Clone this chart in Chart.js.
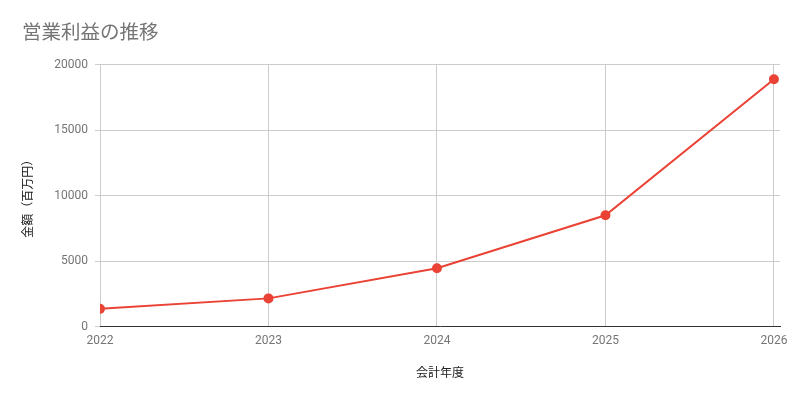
<!DOCTYPE html>
<html><head><meta charset="utf-8">
<script src="https://cdn.jsdelivr.net/npm/chart.js@4"></script>
<style>html,body{margin:0;padding:0;background:#fff}#wrap{width:800px;height:400px}</style>
</head><body><div id="wrap"><canvas id="c" width="800" height="400"></canvas></div>
<script>
const categories = ['2022', '2023', '2024', '2025', '2026'];
const profitValues = [1350, 2150, 4450, 8500, 18900];
const yTickValues = [0, 5000, 10000, 15000, 20000];
const titleText = '営業利益の推移';
const xTitleText = '会計年度';
const yTitleText = '金額（百万円）';

const FONT = "Roboto, 'Noto Sans CJK JP', sans-serif";
const points = categories.map((c, i) => ({ x: parseInt(c, 10), y: profitValues[i] }));
const xMin = parseInt(categories[0], 10);
const xMax = parseInt(categories[categories.length - 1], 10);

new Chart(document.getElementById('c'), {
  type: 'line',
  data: { datasets: [{
    data: points,
    borderColor: '#ea4335',
    backgroundColor: '#ea4335',
    borderWidth: 2,
    pointRadius: 4,
    pointHoverRadius: 4,
    tension: 0
  }]},
  options: {
    responsive: false,
    animation: false,
    devicePixelRatio: 1,
    layout: { padding: { left: 22, right: 20, top: 0, bottom: 0 } },
    plugins: {
      legend: { display: false },
      tooltip: { enabled: false },
      title: {
        display: true, text: titleText, align: 'start', color: '#757575',
        font: { family: FONT, size: 19.5, weight: 'normal' },
        padding: { top: 22, bottom: 19.5 }
      }
    },
    scales: {
      x: {
        type: 'linear', min: xMin, max: xMax + 0.036,
        afterFit: s => { s.height = 73.5; },
        ticks: { stepSize: 1, includeBounds: false, color: '#757575', padding: 7, maxRotation: 0,
          font: { family: FONT, size: 12 }, callback: v => String(v) },
        grid: { color: '#cccccc', drawTicks: false, lineWidth: 1 },
        border: { display: true, color: '#333333', width: 1 },
        title: { display: true, text: xTitleText, color: '#222222',
          font: { family: FONT, size: 12 }, padding: { top: 0, bottom: 19 } }
      },
      y: {
        min: yTickValues[0], max: yTickValues[yTickValues.length - 1],
        afterFit: s => { s.width = 78; },
        afterBuildTicks: s => { s.ticks = yTickValues.map(v => ({ value: v })); },
        ticks: { color: '#757575', padding: 7, font: { family: FONT, size: 12 }, callback: v => String(v) },
        grid: { color: '#cccccc', tickLength: 5, lineWidth: 1 },
        border: { display: false },
        title: { display: true, text: yTitleText, color: '#222222',
          font: { family: FONT, size: 12 }, padding: { top: 0, bottom: 0 } }
      }
    }
  }
});
</script></body></html>
